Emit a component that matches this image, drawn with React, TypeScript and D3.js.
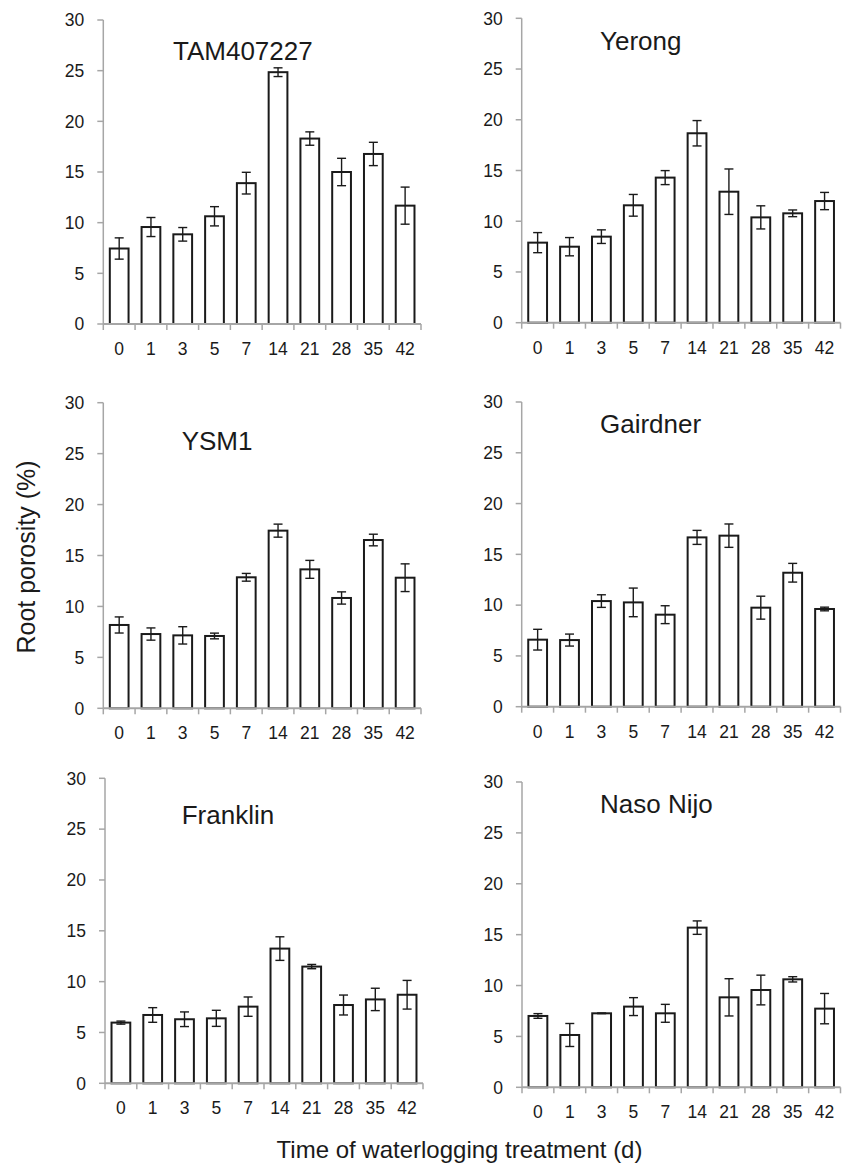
import React from 'react';
import * as d3 from 'd3';

// days of waterlogging (x categories)
const days = ['0', '1', '3', '5', '7', '14', '21', '28', '35', '42'];
const yTicks = [0, 5, 10, 15, 20, 25, 30];

// mean root porosity (%) and error per cultivar
const tamMean = [7.45, 9.57, 8.85, 10.63, 13.9, 24.85, 18.3, 15.0, 16.78, 11.68];
const tamErr = [1.05, 0.94, 0.67, 0.95, 1.07, 0.43, 0.66, 1.35, 1.15, 1.83];
const yerongMean = [7.89, 7.49, 8.48, 11.57, 14.3, 18.67, 12.91, 10.38, 10.78, 11.99];
const yerongErr = [0.99, 0.9, 0.67, 1.07, 0.69, 1.25, 2.24, 1.14, 0.33, 0.85];
const ysmMean = [8.18, 7.29, 7.16, 7.1, 12.86, 17.44, 13.64, 10.83, 16.52, 12.82];
const ysmErr = [0.79, 0.6, 0.85, 0.28, 0.38, 0.64, 0.88, 0.6, 0.57, 1.36];
const gairdnerMean = [6.6, 6.56, 10.4, 10.27, 9.06, 16.67, 16.84, 9.75, 13.19, 9.62];
const gairdnerErr = [1.02, 0.59, 0.62, 1.41, 0.88, 0.69, 1.15, 1.13, 0.92, 0.18];
const franklinMean = [5.97, 6.72, 6.3, 6.39, 7.54, 13.25, 11.48, 7.7, 8.25, 8.71];
const franklinErr = [0.15, 0.72, 0.72, 0.79, 0.95, 1.16, 0.21, 0.98, 1.1, 1.41];
const nasoMean = [7.01, 5.14, 7.27, 7.93, 7.27, 15.69, 8.84, 9.56, 10.61, 7.73];
const nasoErr = [0.23, 1.13, 0.03, 0.88, 0.88, 0.66, 1.83, 1.46, 0.26, 1.49];

const FONT = '"Liberation Sans", Arial, sans-serif';
const AXIS = '#a6a6a6';
const INK = '#1a1a1a';

// panel frames (layout only)
const panels = [
  { title: 'TAM407227', mean: tamMean, err: tamErr, x0: 103.3, x1: 421, yT: 20, yB: 324, tx: 173, ty: 60 },
  { title: 'Yerong', mean: yerongMean, err: yerongErr, x0: 521.7, x1: 840.5, yT: 18.3, yB: 322.7, tx: 600, ty: 50 },
  { title: 'YSM1', mean: ysmMean, err: ysmErr, x0: 103.3, x1: 421, yT: 402.7, yB: 708.3, tx: 181.7, ty: 450 },
  { title: 'Gairdner', mean: gairdnerMean, err: gairdnerErr, x0: 521.7, x1: 840.5, yT: 402, yB: 706.7, tx: 600, ty: 433 },
  { title: 'Franklin', mean: franklinMean, err: franklinErr, x0: 105, x1: 423, yT: 778.3, yB: 1083.3, tx: 181.7, ty: 824 },
  { title: 'Naso Nijo', mean: nasoMean, err: nasoErr, x0: 522, x1: 840.5, yT: 782, yB: 1087.3, tx: 600, ty: 813 },
];

const Panel = ({ p }) => {
  const x = d3.scaleBand().domain(days).range([p.x0, p.x1]).paddingInner(0.41).paddingOuter(0.205);
  const y = d3.scaleLinear().domain([0, 30]).range([p.yB, p.yT]);
  const step = x.step();
  const bw = x.bandwidth();
  const cap = 4.5;
  return (
    <g>
      {/* bars */}
      {days.map((d, i) => (
        <rect key={'b' + d} x={x(d)} y={y(p.mean[i])} width={bw} height={y(0) - y(p.mean[i])}
          fill="#fff" stroke={INK} strokeWidth={2} />
      ))}
      {/* error bars */}
      {days.map((d, i) => {
        const cx = x(d) + bw / 2;
        const hi = y(p.mean[i] + p.err[i]);
        const lo = y(p.mean[i] - p.err[i]);
        return (
          <g key={'e' + d} stroke={INK} strokeWidth={1.4}>
            <line x1={cx} x2={cx} y1={hi} y2={lo} />
            <line x1={cx - cap} x2={cx + cap} y1={hi} y2={hi} />
            <line x1={cx - cap} x2={cx + cap} y1={lo} y2={lo} />
          </g>
        );
      })}
      {/* y axis */}
      <line x1={p.x0} x2={p.x0} y1={p.yT} y2={p.yB} stroke={AXIS} strokeWidth={1.5} />
      {yTicks.map(t => (
        <g key={'y' + t}>
          <line x1={p.x0 - 6} x2={p.x0} y1={y(t)} y2={y(t)} stroke={AXIS} strokeWidth={1.5} />
          <text x={p.x0 - 19} y={y(t)} dy="0.36em" textAnchor="end" fontSize={17.5} fill={INK} fontFamily={FONT}>{t}</text>
        </g>
      ))}
      {/* x axis */}
      <line x1={p.x0} x2={p.x1} y1={p.yB} y2={p.yB} stroke={AXIS} strokeWidth={2} />
      {d3.range(days.length + 1).map(i => (
        <line key={'xt' + i} x1={p.x0 + i * step} x2={p.x0 + i * step} y1={p.yB} y2={p.yB + 6} stroke={AXIS} strokeWidth={1.5} />
      ))}
      {days.map(d => (
        <text key={'xl' + d} x={x(d) + bw / 2} y={p.yB + 31} textAnchor="middle" fontSize={17.5} fill={INK} fontFamily={FONT}>{d}</text>
      ))}
      <text x={p.tx} y={p.ty} fontSize={26} fill={INK} fontFamily={FONT}>{p.title}</text>
    </g>
  );
};

export default function App() {
  return (
    <svg width={845} height={1164} viewBox="0 0 845 1164"
      style={{ position: 'absolute', left: 0, top: 0, background: '#fff' }}>
      <rect width={845} height={1164} fill="#fff" />
      {panels.map(p => <Panel key={p.title} p={p} />)}
      <text transform="translate(35,557) rotate(-90)" textAnchor="middle" fontSize={25} fill={INK} fontFamily={FONT}>
        Root porosity (%)
      </text>
      <text x={459.5} y={1158} textAnchor="middle" fontSize={24} fill={INK} fontFamily={FONT}>
        Time of waterlogging treatment (d)
      </text>
    </svg>
  );
}
